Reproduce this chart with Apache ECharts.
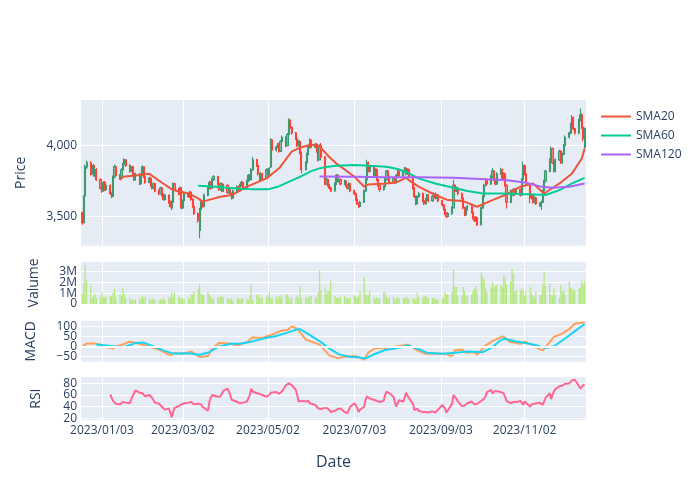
<!DOCTYPE html>
<html><head><meta charset="utf-8">
<script src="https://cdn.jsdelivr.net/npm/echarts@6/dist/echarts.min.js"></script>
<style>html,body{margin:0;padding:0;background:#fff}#c{width:700px;height:500px}</style>
</head><body><div id="c"></div>
<script>
// ---------- data ----------
const firstCalendarDay = '2022-12-19', lastCalendarDay = '2023-12-16';
const firstTradingDay = '2022-12-20', lastTradingDay = '2023-12-15';
const tickLabels = ['2023/01/03','2023/03/02','2023/05/02','2023/07/03','2023/09/03','2023/11/02'];
const seriesNames = ['SMA20','SMA60','SMA120'];
const axisTitles = ['Price','Valume','MACD','RSI','Date'];

// one row per trading day: [open, close, low, high]
const candles = [
[3525,3455,3440,3535],[3455,3640,3450,3650],[3645,3850,3640,3865],[3850,3880,3835,3895],[3880,3800,3790,3890],
[3800,3860,3795,3870],[3860,3790,3780,3870],[3790,3830,3780,3845],[3830,3760,3750,3840],[3760,3700,3690,3770],
[3700,3680,3665,3715],[3680,3740,3675,3750],[3740,3690,3680,3750],[3690,3720,3680,3735],[3720,3660,3650,3725],
[3660,3640,3628,3670],[3640,3780,3635,3790],[3780,3850,3770,3865],[3850,3790,3780,3860],[3790,3770,3760,3800],
[3770,3830,3765,3840],[3830,3870,3820,3880],[3870,3900,3860,3912],[3900,3860,3850,3905],[3860,3820,3810,3870],
[3820,3850,3812,3860],[3850,3800,3790,3858],[3800,3760,3750,3810],[3760,3800,3752,3810],[3800,3730,3720,3808],
[3730,3790,3725,3800],[3790,3850,3785,3862],[3850,3780,3772,3855],[3780,3740,3730,3790],[3740,3770,3735,3780],
[3770,3720,3710,3778],[3720,3700,3690,3730],[3700,3730,3692,3740],[3730,3680,3670,3738],[3680,3660,3650,3690],
[3660,3700,3655,3710],[3700,3650,3640,3708],[3650,3620,3610,3660],[3620,3650,3612,3660],[3650,3600,3590,3655],
[3600,3570,3560,3610],[3560,3600,3545,3612],[3600,3730,3595,3740],[3730,3690,3680,3738],[3690,3660,3650,3700],
[3660,3700,3652,3712],[3700,3560,3550,3708],[3560,3610,3552,3620],[3610,3660,3600,3670],[3660,3640,3630,3668],
[3640,3670,3632,3680],[3670,3620,3610,3678],[3620,3570,3560,3628],[3570,3520,3510,3578],[3520,3470,3455,3528],
[3400,3550,3344,3560],[3550,3600,3540,3612],[3600,3570,3560,3610],[3570,3650,3565,3660],[3650,3700,3642,3712],
[3700,3740,3692,3752],[3740,3700,3690,3748],[3700,3760,3695,3770],[3760,3780,3750,3792],[3780,3730,3720,3788],
[3730,3690,3680,3738],[3690,3730,3682,3740],[3730,3680,3670,3738],[3680,3720,3672,3730],[3720,3670,3660,3728],
[3670,3700,3662,3710],[3700,3660,3650,3708],[3660,3630,3620,3668],[3630,3680,3625,3690],[3680,3710,3672,3720],
[3710,3680,3670,3718],[3680,3720,3672,3730],[3720,3740,3712,3752],[3740,3700,3690,3748],[3700,3750,3695,3760],
[3750,3790,3742,3800],[3790,3760,3750,3798],[3760,3830,3755,3842],[3830,3900,3822,3922],[3900,3860,3850,3908],
[3860,3800,3790,3868],[3800,3760,3750,3808],[3760,3800,3752,3812],[3800,3770,3760,3808],[3770,3830,3765,3840],
[3830,3790,3780,3838],[3790,3840,3785,3850],[3850,4040,3845,4055],[4040,3970,3960,4048],[3970,3990,3960,4002],
[3990,4010,3982,4022],[4010,3960,3950,4018],[3960,4030,3955,4040],[4030,4060,4022,4072],[4060,4000,3990,4068],
[4000,4080,3995,4090],[4080,4180,4075,4195],[4180,4130,4120,4188],[4130,4090,4080,4138],[4090,4050,4040,4098],
[4050,4000,3990,4058],[4000,4030,3992,4040],[4030,3950,3940,4038],[3950,3830,3805,3958],[3830,3880,3825,3890],
[3880,3940,3872,3950],[3940,3990,3932,4000],[3990,4040,3982,4052],[4040,3990,3980,4048],[3990,4010,3982,4020],
[4010,3960,3950,4018],[3960,3900,3888,3968],[3900,4000,3895,4010],[4000,3920,3910,4020],[3920,3730,3720,3928],
[3730,3760,3722,3772],[3760,3720,3710,3768],[3720,3700,3690,3730],[3700,3680,3672,3710],[3680,3730,3675,3740],
[3730,3790,3722,3800],[3790,3750,3740,3798],[3750,3760,3742,3772],[3760,3730,3720,3768],[3730,3750,3722,3760],
[3750,3720,3710,3758],[3720,3700,3690,3728],[3700,3730,3692,3740],[3730,3680,3670,3738],[3680,3660,3650,3690],
[3660,3620,3610,3668],[3620,3590,3580,3628],[3590,3570,3560,3598],[3570,3600,3562,3610],[3600,3680,3595,3690],
[3680,3760,3672,3770],[3760,3880,3755,3900],[3880,3820,3810,3888],[3820,3850,3812,3862],[3850,3790,3780,3858],
[3790,3830,3782,3840],[3830,3760,3750,3838],[3760,3720,3710,3768],[3720,3690,3675,3728],[3690,3710,3682,3720],
[3710,3760,3702,3770],[3760,3820,3752,3830],[3820,3780,3770,3828],[3780,3740,3730,3788],[3740,3770,3732,3780],
[3770,3740,3730,3778],[3740,3790,3732,3800],[3790,3820,3782,3832],[3820,3790,3780,3828],[3790,3820,3782,3832],
[3820,3840,3812,3852],[3840,3800,3790,3848],[3800,3830,3792,3840],[3830,3780,3770,3838],[3780,3700,3690,3788],
[3700,3640,3630,3708],[3640,3590,3578,3648],[3590,3640,3582,3650],[3640,3660,3632,3672],[3660,3610,3600,3668],
[3610,3590,3580,3618],[3590,3620,3582,3630],[3620,3650,3612,3660],[3650,3610,3600,3658],[3610,3640,3602,3650],
[3640,3660,3632,3670],[3660,3630,3620,3668],[3630,3650,3622,3660],[3650,3610,3600,3658],[3610,3580,3570,3618],
[3580,3550,3540,3588],[3550,3520,3510,3558],[3520,3500,3490,3528],[3500,3520,3492,3530],[3520,3560,3512,3570],
[3560,3720,3555,3760],[3720,3680,3670,3728],[3680,3700,3672,3712],[3700,3660,3650,3708],[3660,3630,3620,3668],
[3630,3560,3550,3638],[3560,3510,3500,3568],[3510,3550,3502,3560],[3550,3570,3542,3580],[3570,3530,3520,3578],
[3530,3490,3480,3538],[3490,3470,3460,3498],[3470,3490,3462,3500],[3490,3440,3432,3498],[3440,3560,3435,3570],
[3560,3640,3552,3650],[3640,3720,3632,3730],[3720,3760,3712,3772],[3760,3730,3720,3768],[3730,3780,3722,3792],
[3780,3820,3772,3842],[3820,3760,3750,3828],[3760,3730,3720,3768],[3730,3800,3722,3812],[3800,3830,3792,3845],
[3830,3770,3760,3838],[3770,3800,3762,3812],[3800,3720,3710,3808],[3720,3600,3556,3728],[3600,3680,3592,3690],
[3680,3650,3640,3688],[3650,3690,3642,3700],[3690,3660,3650,3698],[3660,3690,3652,3700],[3690,3650,3640,3698],
[3650,3760,3645,3770],[3760,3860,3752,3888],[3860,3800,3790,3868],[3800,3730,3720,3808],[3730,3630,3592,3738],
[3630,3650,3620,3662],[3650,3600,3590,3658],[3600,3630,3592,3640],[3630,3590,3580,3638],[3590,3580,3570,3598],
[3570,3600,3545,3610],[3600,3680,3595,3690],[3680,3750,3672,3760],[3750,3820,3742,3830],[3820,3900,3812,3912],
[3900,3980,3892,3995],[3980,3880,3870,3988],[3880,3820,3810,3888],[3820,3900,3812,3910],[3900,3960,3892,3972],
[3960,3880,3870,3968],[3880,3940,3872,3950],[3940,4000,3932,4012],[4000,4060,3992,4072],[4060,4090,4052,4100],
[4090,4150,4082,4162],[4150,4200,4142,4218],[4200,4120,4110,4208],[4120,4090,4080,4128],[4090,4180,4082,4192],
[4180,4220,4172,4264],[4220,4130,4120,4228],[4130,4050,4030,4138],[3990,4120,3980,4130]
];

// volume per trading day, millions
const volumeM = [
0.95,1.96,3.6,2.17,1.65,0.55,0.7,0.95,0.5,0.65, 1.04,0.65,0.6,0.67,0.8,0.7,1.04,1.4,0.65,0.92,
0.73,1.47,0.95,0.58,0.55,0.4,0.34,0.4,0.43,0.5, 0.5,0.8,0.55,0.67,0.52,0.34,0.5,0.5,0.4,0.34,
0.43,0.4,0.6,0.37,0.6,0.6,1.04,0.65,1.04,0.67, 0.58,0.5,0.5,0.43,0.6,0.55,0.92,0.86,1.16,1.4,
1.87,0.95,0.86,0.8,1.1,0.95,0.7,0.43,0.5,0.67, 0.55,0.8,0.67,0.6,0.5,0.55,0.37,0.55,0.28,0.55,
0.5,0.43,0.5,0.55,0.5,0.4,0.8,1.8,
0.43,0.8,0.92,0.55,0.67,0.5,0.6,0.8,1.1,0.5, 0.6,0.67,0.43,0.73,0.6,0.8,0.92,0.86,0.67,0.34,
0.6,0.55,0.8,0.55,1.6,0.55,0.55,0.67,0.55,0.8, 0.73,0.67,0.5,1.04,3.09,1.28,1.53,0.92,1.28,1.22,
2.08,0.73,0.55,0.55,0.55,0.67,0.73,0.55,0.5,0.55, 0.55,0.8,0.67,0.6,0.67,1.16,2.48,0.92,0.8,0.8,
1.22,0.67,0.43,0.6,0.55,0.55,1.1,1.04,0.67,0.55, 0.55,0.67,0.43,0.5,0.67,0.55,0.55,0.5,0.67,0.55,
0.5,0.55,0.5,0.43,1.04,0.65,0.6,
0.67,0.76,0.67,0.52,0.58,0.55,0.46,0.4,0.4,0.6, 0.45,1.07,0.89,0.89,1.13,3.21,1.59,1.56,0.76,0.76,
1.56,1.19,0.67,0.76,0.83,1.19,1.38,1.68,1.07,2.9, 2.48,2.23,1.44,1.13,1.56,1.99,1.56,1.68,1.74,1.8,
1.56,2.66,2.42,1.8,2.11,3.21,2.78,1.13,1.25,1.28, 1.44,1.2,0.76,1.07,1.56,0.98,0.76,0.58,1.13,0.76,
0.89,1.8,2.97,1.68,1.93,0.83,0.83,1.44,0.83,0.58, 1.74,1.07,1.31,0.89,2.05,1.5,1.38,1.25,1.25,1.44,
1.5,2.11,1.8,2.1
];

// moving averages as [trading-day index, value]
const sma20 = [[19,3757],[21,3780],[28,3790],[34,3802],[40,3745],[47,3686],[54,3662],[59,3627],[62,3604],[64,3615],[71,3639],[77,3651],[84,3710],[94,3769],[101,3840],[108,3958],[112,3986],[118,4009],[122,3995],[127,3920],[130,3875],[139,3780],[144,3710],[147,3726],[156,3733],[161,3740],[166,3773],[168,3757],[173,3710],[181,3651],[188,3615],[195,3608],[203,3568],[210,3615],[217,3651],[224,3710],[231,3733],[237,3662],[244,3733],[251,3804],[256,3910],[258,3980]];
const sma60 = [[59,3717],[67,3712],[74,3703],[81,3695],[88,3691],[95,3691],[100,3709],[105,3740],[112,3780],[118,3820],[122,3840],[126,3851],[130,3858],[139,3863],[147,3858],[156,3851],[162,3835],[168,3805],[173,3769],[181,3733],[190,3703],[198,3679],[205,3662],[215,3662],[224,3658],[232,3655],[238,3651],[244,3686],[251,3733],[258,3773]];
const sma120 = [[122,3783],[139,3780],[156,3776],[173,3776],[190,3773],[207,3762],[217,3757],[227,3740],[234,3712],[241,3703],[249,3710],[258,3733]];

const macd = [[0,0],[3,14],[6,16],[9,9],[13,-3],[16,-11],[18,0],[21,10],[24,24],[28,19],[31,9],[35,-3],[40,-20],[45,-45],[48,-33],[52,-37],[56,-25],[60,-53],[64,-48],[67,-9],[70,18],[76,15],[79,5],[84,22],[88,47],[93,43],[98,60],[103,81],[105,83],[108,101],[110,90],[114,36],[118,25],[122,9],[127,-45],[131,-59],[135,-51],[137,-49],[140,-49],[144,-66],[147,-30],[150,-9],[156,-8],[161,0],[166,8],[168,8],[172,-20],[176,-37],[181,-37],[186,-37],[189,-49],[191,-19],[194,-15],[197,-32],[201,-29],[203,-42],[207,5],[211,31],[215,51],[217,43],[219,22],[224,13],[227,25],[231,5],[234,-15],[236,-20],[239,22],[242,48],[246,65],[249,87],[253,116],[258,121]];
const signal = [[8,10],[13,5],[19,-3],[23,0],[28,17],[32,19],[37,0],[42,-20],[47,-36],[54,-34],[60,-42],[65,-29],[70,0],[76,13],[81,14],[86,22],[93,39],[99,53],[105,70],[110,87],[112,87],[116,62],[122,27],[128,-15],[132,-40],[137,-52],[141,-55],[145,-60],[150,-37],[155,-18],[161,-9],[167,5],[172,-10],[177,-32],[184,-37],[191,-32],[198,-25],[205,-29],[210,-3],[214,33],[217,39],[222,26],[227,17],[232,9],[238,-8],[242,1],[247,35],[252,72],[258,112]];

const rsiStart = 14;
const rsi = [
61,55,50,47,45,44,46,48,45,47,46,
52,58,63,68,64,62,63,61,58,60,
58,55,51,47,45,44,40,37,35,37,
30,22,30,38,41,40,44,43,46,47,
47,48,46,44,45,42,44,40,38,33,
48,55,60,58,57,60,58,62,67,71,
66,60,52,49,48,47,46,48,47,49,
52,60,71,66,63,64,62,63,60,57,
56,60,64,66,65,63,62,64,66,77,
78,80,78,77,69,60,49,46,50,49,
47,50,46,45,43,40,37,34,36,38,
35,37,34,31,33,32,36,34,37,31,
34,29,31,40,46,43,38,31,35,40,
52,58,56,54,52,51,50,49,48,50,
60,66,64,63,57,48,40,46,51,49,
55,64,66,55,45,34,36,37,33,31,
32,31,29,30,32,31,30,29,35,43,
40,37,30,29,45,60,57,54,50,41,
44,42,45,46,49,46,44,47,45,50,
52,54,58,65,69,63,65,67,66,65,
66,63,57,50,46,46,48,46,48,50,
47,43,49,51,40,44,46,45,46,47,
45,43,41,55,63,53,60,66,70,75,
73,76,79,79,80,83,85,87,86,75,
71,74,77,77
];

// ---------- build ----------
const DAY = 86400000;
function ymd(t){const d=new Date(t);return d.getUTCFullYear()+'/'+String(d.getUTCMonth()+1).padStart(2,'0')+'/'+String(d.getUTCDate()).padStart(2,'0');}
const t0 = Date.parse(firstCalendarDay+'T00:00:00Z'), t1 = Date.parse(lastCalendarDay+'T00:00:00Z');
const ft = Date.parse(firstTradingDay+'T00:00:00Z'), lt = Date.parse(lastTradingDay+'T00:00:00Z');
const calendar = [], tradeIdx = [];
for (let t=t0,i=0; t<=t1; t+=DAY,i++){
  calendar.push(ymd(t));
  const wd = new Date(t).getUTCDay();
  if (t>=ft && t<=lt && wd!==0 && wd!==6) tradeIdx.push(i);
}
const tickSet = new Set(tickLabels);
const pts = arr => arr.map(([b,v]) => [tradeIdx[b], v]);

const FONT = '"Open Sans", verdana, arial, sans-serif';
const TXT = '#2a3f5f';
const L = 81, R = 114;
const grids = [
  {left:L, right:R, top:100, height:145.7},
  {left:L, right:R, top:261.7, height:42.3},
  {left:L, right:R, top:320.7, height:41},
  {left:L, right:R, top:377.3, height:42.7}
].map(g => Object.assign(g, {show:true, backgroundColor:'#E5ECF6', borderWidth:0, containLabel:false}));

const xAxes = grids.map((g,k) => ({
  type:'category', gridIndex:k, data:calendar, boundaryGap:false,
  axisLine:{show:false}, axisTick:{show:false},
  axisLabel:{show:k===3, interval:(i,v)=>tickSet.has(v), hideOverlap:false, color:TXT, fontSize:12, fontFamily:FONT, margin:5},
  splitLine:{show:true, interval:(i,v)=>tickSet.has(v), lineStyle:{color:'#fff', width:1}},
  name: k===3 ? axisTitles[4] : '', nameLocation:'middle', nameGap:34,
  nameTextStyle:{color:TXT, fontSize:16, fontFamily:FONT}
}));

function lbl(fmt, showMin){
  return {color:TXT, fontSize:12, fontFamily:FONT, margin:4, hideOverlap:false,
          showMinLabel:!!showMin, showMaxLabel:false, formatter:fmt};
}
function yAx(k, o){
  return Object.assign({
    type:'value', gridIndex:k, position:'left',
    axisLine:{show:false}, axisTick:{show:false},
    splitLine:{show:true, lineStyle:{color:'#fff', width:1}, showMinLine:false, showMaxLine:false},
    nameLocation:'middle', nameRotate:90,
    nameTextStyle:{color:TXT, fontSize:14, fontFamily:FONT}
  }, o);
}
const minus = v => v<0 ? '\u2212'+Math.abs(v) : String(v);
const volMax = 3.88;
const yAxes = [
  yAx(0,{min:3292, max:4324, splitNumber:2, name:axisTitles[0], nameGap:53,
    axisLabel:lbl(v=> v%500===0 ? v.toLocaleString('en-US') : '')}),
  yAx(1,{min:0, max:volMax, interval:1, name:axisTitles[1], nameGap:40,
    axisLabel:lbl(v=> (v>0 && Math.abs(v-Math.round(v))<1e-9) ? Math.round(v)+'M' : '', false)}),
  yAx(2,{min:-77, max:130, splitNumber:4, name:axisTitles[2], nameGap:43,
    axisLabel:lbl(v=> v%50===0 ? minus(v) : '')}),
  yAx(3,{min:17.3, max:90.3, splitNumber:4, name:axisTitles[3], nameGap:38,
    axisLabel:lbl(v=> v%20===0 ? String(v) : '')}),
  // companion axis on the volume panel that carries only the "0" label
  yAx(1,{min:0, max:volMax, interval:1, position:'left', offset:0, splitLine:{show:false},
    axisLabel:{color:TXT, fontSize:12, fontFamily:FONT, margin:4, hideOverlap:false,
      showMinLabel:true, showMaxLabel:false, formatter:v=> v===0 ? '0' : ''}})
];

const line = (name, data, color, k) => ({
  name, type:'line', xAxisIndex:k, yAxisIndex:k, data, showSymbol:false, symbol:'none',
  lineStyle:{color, width:2}, itemStyle:{color}, z:3, silent:true
});

const option = {
  animation:false,
  textStyle:{fontFamily:FONT},
  grid:grids, xAxis:xAxes, yAxis:yAxes,
  legend:{
    data:seriesNames, orient:'vertical', left:601, top:109.5, padding:0,
    itemWidth:30, itemHeight:2, itemGap:5, icon:'rect',
    textStyle:{color:TXT, fontSize:12, fontFamily:FONT, lineHeight:14}
  },
  series:[
    {type:'candlestick', xAxisIndex:0, yAxisIndex:0,
     data: candles.map((c,b)=>[tradeIdx[b], c[0], c[1], c[2], c[3]]),
     encode:{x:0, y:[1,2,3,4]},
     barWidth:1.6,
     itemStyle:{color:'rgba(61,153,112,0.6)', color0:'rgba(255,65,54,0.6)', borderColor:'#3D9970', borderColor0:'#FF4136', borderWidth:1.1},
     z:2, silent:true},
    line(seriesNames[0], pts(sma20), '#EF553B', 0),
    line(seriesNames[1], pts(sma60), '#00CC96', 0),
    line(seriesNames[2], pts(sma120), '#AB63FA', 0),
    {type:'bar', xAxisIndex:1, yAxisIndex:1, data: volumeM.map((v,b)=>[tradeIdx[b], v]),
     barWidth:1.3, itemStyle:{color:'#B6E880'}, silent:true},
    {type:'line', xAxisIndex:2, yAxisIndex:2, data:[], z:1, silent:true,
     markLine:{silent:true, symbol:'none', label:{show:false}, lineStyle:{color:'#fff', width:2, type:'solid'}, data:[{yAxis:0}]}},
    line('MACD', pts(macd), '#FFA15A', 2),
    line('Signal', pts(signal), '#19D3F3', 2),
    line('RSI', rsi.map((v,k)=>[tradeIdx[k+rsiStart], v]), '#FF6692', 3)
  ]
};
const chart = echarts.init(document.getElementById('c'), null, {renderer:'canvas'});
chart.setOption(option);
</script></body></html>
